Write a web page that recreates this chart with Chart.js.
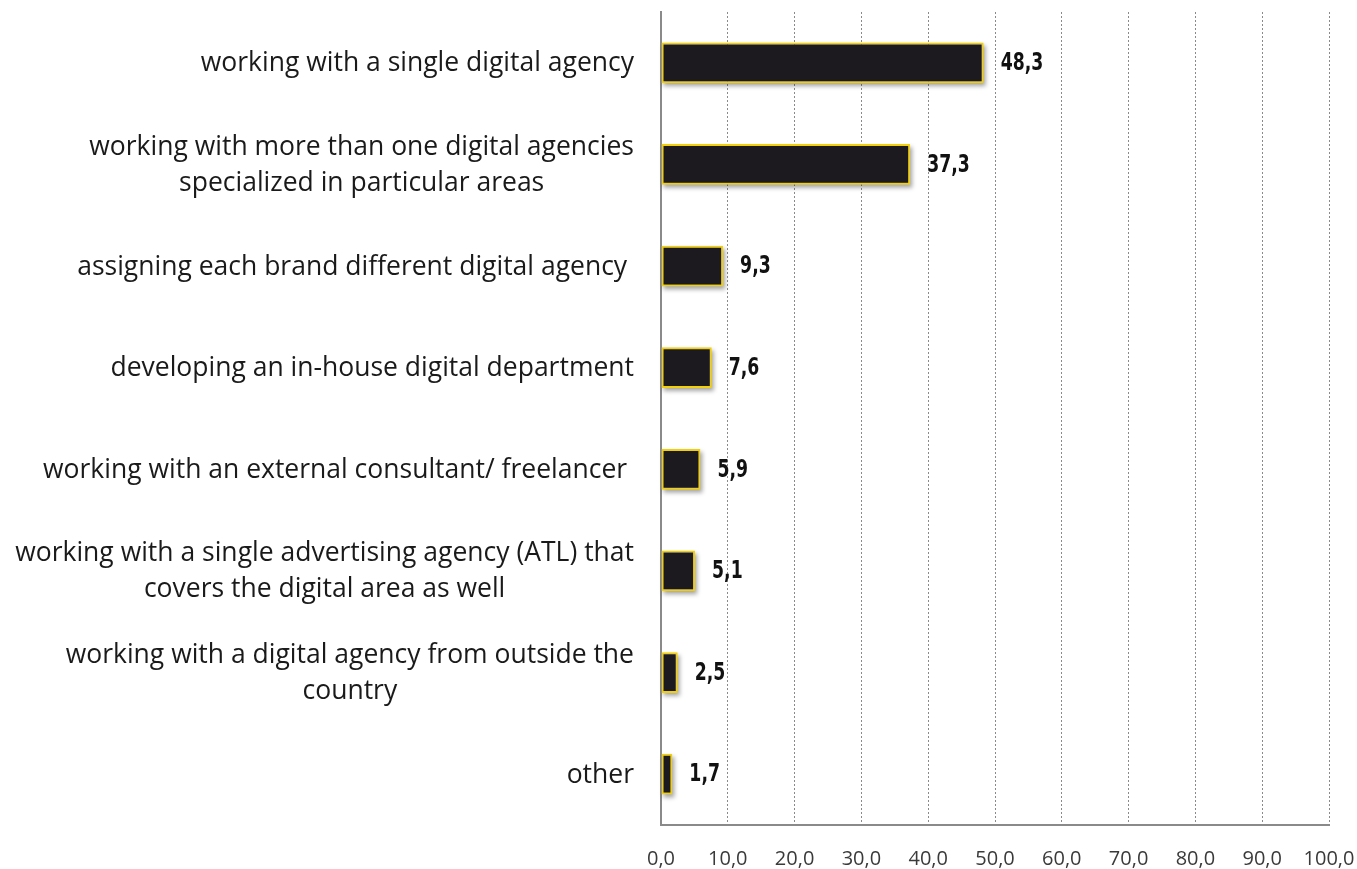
<!DOCTYPE html>
<html>
<head>
<meta charset="utf-8">
<script src="https://cdn.jsdelivr.net/npm/chart.js@4/dist/chart.umd.min.js"></script>
<style>
  html, body { margin: 0; padding: 0; background: #fff; }
  #wrap { width: 1357px; height: 869px; }
</style>
</head>
<body>
<div id="wrap"><canvas id="chart" width="1357" height="869"></canvas></div>
<script>
// categories, one array of lines per label
const categories = [
    ['working with a single digital agency'],
    ['working with more than one digital agencies', 'specialized in particular areas'],
    ['assigning each brand different digital agency '],
    ['developing an in-house digital department'],
    ['working with an external consultant/ freelancer '],
    ['working with a single advertising agency (ATL) that', 'covers the digital area as well'],
    ['working with a digital agency from outside the', 'country'],
    ['other']
];
const shares = [48.3, 37.3, 9.3, 7.6, 5.9, 5.1, 2.5, 1.7];
const xTicks = [0, 10, 20, 30, 40, 50, 60, 70, 80, 90, 100];

const labelFont = '"Open Sans", "Noto Sans", sans-serif';
const valueFont = '"DejaVu Sans", sans-serif';

const fmt = v => v.toFixed(1).replace('.', ',');

// soft drop shadow under each bar
const barShadow = {
    id: 'barShadow',
    beforeDatasetsDraw(chart) {
        const ctx = chart.ctx;
        ctx.save();
        ctx.filter = 'blur(2px)';
        ctx.fillStyle = 'rgba(0,0,0,0.35)';
        chart.getDatasetMeta(0).data.forEach(el => {
            const h = el.height;
            ctx.fillRect(el.base + 2, el.y - h / 2 + 3, el.x - el.base, h);
        });
        ctx.restore();
    }
};

// value labels right of the bars, squeezed horizontally to a condensed look
const valueLabels = {
    id: 'valueLabels',
    afterDatasetsDraw(chart) {
        const ctx = chart.ctx;
        const squeeze = 0.72;
        ctx.save();
        ctx.font = 'bold 24px ' + valueFont;
        ctx.fillStyle = '#111';
        ctx.textBaseline = 'middle';
        ctx.textAlign = 'left';
        chart.getDatasetMeta(0).data.forEach((el, i) => {
            ctx.save();
            ctx.translate(el.x + 17, el.y + 1);
            ctx.scale(squeeze, 1);
            ctx.fillText(fmt(shares[i]), 0, 0);
            ctx.restore();
        });
        ctx.restore();
    }
};

// category labels: block right aligned, lines centred to each other
const categoryLabels = {
    id: 'categoryLabels',
    afterDraw(chart) {
        const ctx = chart.ctx;
        const y = chart.scales.y;
        const right = chart.chartArea.left - 27;
        const lineH = 36;
        ctx.save();
        ctx.font = '26.5px ' + labelFont;
        ctx.fillStyle = '#1a1a1a';
        ctx.textBaseline = 'middle';
        ctx.textAlign = 'center';
        categories.forEach((lines, i) => {
            const cy = y.getPixelForValue(i) + 1;
            const w = Math.max(...lines.map(l => ctx.measureText(l).width));
            const cx = right - w / 2;
            lines.forEach((l, k) => {
                const ly = cy + (k - (lines.length - 1) / 2) * lineH;
                ctx.fillText(l, cx, ly);
            });
        });
        ctx.restore();
    }
};

new Chart(document.getElementById('chart'), {
    type: 'bar',
    data: {
        labels: categories,
        datasets: [{
            data: shares,
            backgroundColor: '#1c1a1f',
            borderColor: '#f2cf0c',
            borderWidth: 2,
            borderSkipped: false,
            categoryPercentage: 1,
            barPercentage: 0.4
        }]
    },
    options: {
        indexAxis: 'y',
        responsive: false,
        animation: false,
        layout: { padding: { top: 12, right: 2, left: 0, bottom: 0 } },
        plugins: {
            legend: { display: false },
            tooltip: { enabled: false }
        },
        scales: {
            x: {
                min: 0,
                max: 100,
                afterBuildTicks: s => { s.ticks = xTicks.map(v => ({ value: v })); },
                afterFit: s => { s.height = 44; s.paddingLeft = 0; s.paddingRight = 28; },
                grid: { color: '#8a8a8a', lineWidth: 1, drawTicks: false },
                border: { display: true, color: '#8a8a8a', width: 2, dash: [2, 2] },
                ticks: {
                    padding: 22,
                    color: '#3a3a3a',
                    font: { family: labelFont, size: 20 },
                    callback: v => fmt(v)
                }
            },
            y: {
                afterFit: s => { s.width = 661; },
                grid: { display: false },
                border: { display: true, color: '#8a8a8a', width: 2 },
                ticks: { display: false }
            }
        }
    },
    plugins: [barShadow, valueLabels, categoryLabels]
});
</script>
</body>
</html>
